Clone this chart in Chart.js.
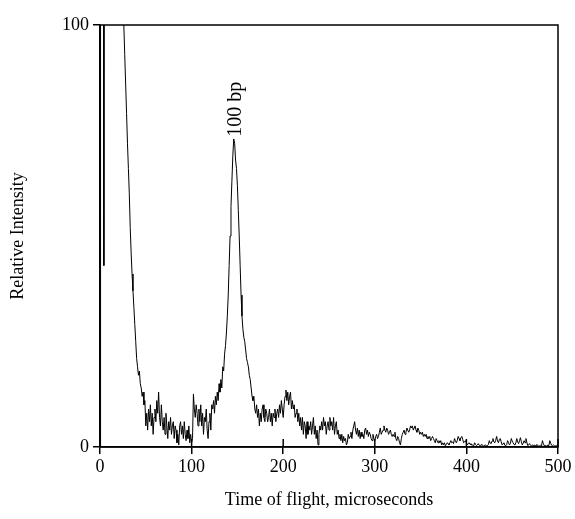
<!DOCTYPE html>
<html>
<head>
<meta charset="utf-8">
<script src="https://cdn.jsdelivr.net/npm/chart.js@4.4.1/dist/chart.umd.min.js"></script>
<style>
  body { margin: 0; background: #fff; }
  canvas { display: block; }
</style>
</head>
<body>
<canvas id="tof" width="575" height="519"></canvas>
<script>
// leading spike near t = 0 (goes off scale)
const spikeTimes = [0, 0.6, 3.6, 4.2, 4.8, 24];
const spikeValues = [0, 160, 160, 43, 160, 130];

// sampled trace, every microsecond from 26 to 500
const traceStart = 26;
const traceStep = 1;
const traceValues = [
  100, 93, 86, 79, 72, 66, 60, 52, 46, 41, 37, 33, 29, 25,   // 26-39
  21, 19, 17, 18, 15, 14, 12, 13, 10, 11,          // 40
  5, 8, 4, 9, 6, 10, 5, 8, 3, 7,                   // 50
  9, 6, 11, 8, 13, 7, 5, 10, 6, 4,                 // 60
  7, 3, 8, 5, 2, 6, 4, 7, 3, 5,                    // 70
  6, 2, 5, 4, 1, 3, 0.5, 5, 6, 3,                  // 80
  5, 2, 6, 3, 1.5, 4, 2, 5, 1, 3,                  // 90
  1, 2, 12.5, 9, 7, 10, 8, 5, 9, 6,                // 100
  10, 5, 8, 3, 7, 6, 9, 4, 2, 6,                   // 110
  8, 4, 10, 9, 11, 8, 12, 10, 13, 11,              // 120
  15, 13, 16, 14, 19, 18, 22, 24, 27, 31,          // 130
  36, 43, 50, 57, 63, 69, 73, 72, 68, 66,          // 140
  62, 56, 50, 43, 36, 31, 28, 26, 25, 23,          // 150
  21, 20, 19, 17, 16, 14, 12, 11, 12, 9,           // 160
  8, 10, 7, 9, 5, 8, 6, 9, 10, 7,                  // 170
  6, 9, 8, 6, 7, 9, 6, 8, 5, 8,                    // 180
  7, 9, 6, 8, 9, 7, 10, 8, 11, 9,                  // 190
  7, 10, 12, 13.5, 11, 13, 10, 12, 13, 9,          // 200
  11, 9, 10, 7, 8, 9, 6, 8, 5, 7,                  // 210
  4, 7, 3, 6, 5, 2, 6, 3, 5, 4,                    // 220
  6, 3, 5, 7, 3, 5, 2, 4, 0.5, 3,                  // 230
  5, 4, 6, 4, 7, 5, 6, 3, 5, 6,                    // 240
  4, 7, 5, 6, 4, 7, 3, 5, 6, 3,                    // 250
  4, 2, 3, 1.5, 3, 1, 2.5, 1.5, 2, 0.5,            // 260
  1, 3, 2, 2.5, 3.5, 2, 4, 5, 6, 4,                // 270
  3, 4.5, 2.5, 4, 2, 3.5, 2.5, 3, 2, 4,            // 280
  4.5, 3, 4, 2.5, 3.5, 3, 2, 1.5, 3, 2,            // 290
  1.5, 2.5, 3, 2, 2.5, 3.5, 4.5, 3, 3.5, 4,        // 300
  5, 4, 3.5, 4.5, 4, 3, 3.5, 4, 3, 2.5,            // 310
  3, 2.5, 3.5, 2, 1.5, 2.5, 2, 1, 0.5, 2,          // 320
  3, 3.5, 4, 3, 3.5, 4.5, 4, 3.5, 4, 5,            // 330
  4.5, 5, 4, 4.5, 5, 4, 3.5, 4.5, 4, 3,            // 340
  3.5, 3, 3.5, 2.5, 3, 2.5, 3, 2, 2.5, 2,          // 350
  2.5, 1.5, 2, 2.5, 2, 1.5, 1, 2, 1.5, 1,          // 360
  1.5, 1, 1.5, 0.5, 1, 0.5, 1, 0.3, 0.6, 1,        // 370
  0.8, 0.5, 1, 1.5, 1, 1.2, 0.8, 2, 1.5, 1,        // 380
  1.5, 2.5, 2, 1.5, 2.2, 2.5, 1.8, 1, 1.2, 1.5,    // 390
  1, 0.5, 0.8, 1, 0.6, 0.8, 0.4, 0.5, 0.3, 1,      // 400
  0.6, 0.3, 0.5, 0.8, 0.4, 0.3, 0.5, 0.6, 0.3, 0.2, // 410
  0.4, 0.5, 0.2, 0.3, 0.6, 1.5, 0.9, 0.8, 1.4, 2,  // 420
  1.2, 1, 1.6, 2.5, 1.4, 1, 1.8, 2, 1.2, 0.5,      // 430
  0.8, 1, 0.4, 0.3, 0.6, 1.5, 1, 0.5, 0.8, 2,      // 440
  1.4, 1, 0.6, 0.5, 1, 2, 1.2, 0.8, 1.5, 2.2,      // 450
  1.2, 0.5, 0.9, 1.5, 1, 2, 1.1, 0.3, 0.5, 0.8,    // 460
  0.4, 0.2, 0.5, 0.3, 0.5, 0.2, 0.4, 0.6, 0.3, 0.2, // 470
  0.3, 0.4, 0.2, 1.5, 0.8, 0.3, 0.4, 0.2, 0.3, 0.5, // 480
  0.3, 1.5, 0.9, 0.4, 0.3, 0.5, 0.3, 0.2, 0.4, 0.1, 0 // 490-500
];

const xTicks = [0, 100, 200, 300, 400, 500];
const yTicks = [0, 100];

// peak label
const peakLabel = "100 bp";
const peakTime = 147;
const peakValue = 73.5;

const points = spikeTimes.map((t, i) => ({ x: t, y: spikeValues[i] }));
traceValues.forEach((v, i) => points.push({ x: traceStart + i * traceStep, y: v }));

const serif = "'Liberation Serif', 'DejaVu Serif', serif";

// box around the plot, inner tick marks and the peak label
const framePlugin = {
  id: "frame",
  afterDraw(chart) {
    const { ctx, chartArea: a, scales } = chart;
    ctx.save();
    ctx.strokeStyle = "#000";
    ctx.lineWidth = 1.5;
    ctx.strokeRect(a.left, a.top, a.right - a.left, a.bottom - a.top);

    xTicks.forEach((t) => {
      const px = scales.x.getPixelForValue(t);
      ctx.beginPath();
      ctx.moveTo(px, a.bottom);
      ctx.lineTo(px, a.bottom - 8);
      ctx.stroke();
    });

    const lx = scales.x.getPixelForValue(peakTime);
    const ly = scales.y.getPixelForValue(peakValue);
    ctx.translate(lx + 1, ly);
    ctx.rotate(-Math.PI / 2);
    ctx.fillStyle = "#000";
    ctx.font = "20px " + serif;
    ctx.textAlign = "left";
    ctx.textBaseline = "middle";
    ctx.fillText(peakLabel, 0, 0);
    ctx.restore();
  },
};

new Chart(document.getElementById("tof"), {
  type: "line",
  data: {
    datasets: [
      {
        data: points,
        borderColor: "#000",
        borderWidth: 1,
        pointRadius: 0,
        tension: 0,
      },
    ],
  },
  options: {
    responsive: false,
    animation: false,
    layout: { padding: { top: 25, right: 17, left: 0, bottom: 0 } },
    plugins: { legend: { display: false }, tooltip: { enabled: false } },
    scales: {
      x: {
        type: "linear",
        min: 0,
        max: 500,
        afterBuildTicks: (scale) => {
          scale.ticks = xTicks.map((v) => ({ value: v }));
        },
        afterFit: (scale) => {
          scale.height = 72;
        },
        grid: { drawOnChartArea: false, tickLength: 7, color: "#000", lineWidth: 1.5 },
        border: { color: "#000", width: 1.5 },
        ticks: { color: "#000", font: { family: serif, size: 18 }, padding: 2, maxRotation: 0 },
        title: {
          display: true,
          text: "Time of flight, microseconds",
          color: "#000",
          font: { family: serif, size: 18 },
          padding: { top: 0, bottom: 8 },
        },
      },
      y: {
        min: 0,
        max: 100,
        afterBuildTicks: (scale) => {
          scale.ticks = yTicks.map((v) => ({ value: v }));
        },
        afterFit: (scale) => {
          scale.width = 100;
        },
        grid: { drawOnChartArea: false, tickLength: 7, color: "#000", lineWidth: 1.5 },
        border: { color: "#000", width: 1.5 },
        ticks: { color: "#000", font: { family: serif, size: 18 }, padding: 4 },
        title: {
          display: true,
          text: "Relative Intensity",
          color: "#000",
          font: { family: serif, size: 18 },
          padding: { top: 7, bottom: 0 },
        },
      },
    },
  },
  plugins: [framePlugin],
});
</script>
</body>
</html>
